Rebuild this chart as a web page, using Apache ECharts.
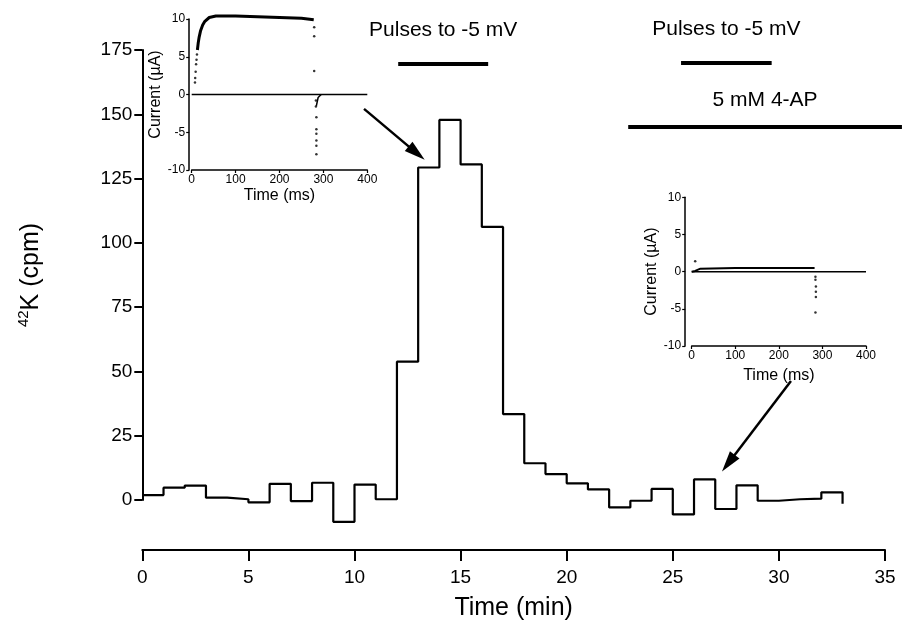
<!DOCTYPE html>
<html><head><meta charset="utf-8">
<script src="https://cdn.jsdelivr.net/npm/echarts@6/dist/echarts.min.js"></script>
<style>html,body{margin:0;padding:0;background:#fff}#c{width:903px;height:631px}</style>
</head><body><div id="c"></div>
<script>
// ---- main chart data (42K efflux, cpm per 1-min bin) ----
const minuteStarts = [0,1,2,3,4,5,6,7,8,9,10,11,12,13,14,15,16,17,18,19,20,21,22,23,24,25,26,27,28,29,30,31,32,33];
const cpmValues = [1.9,4.8,5.6,0.9,0.3,-0.9,6.3,-0.4,6.7,-8.5,6.0,0.3,53.8,129.3,147.8,130.5,106.2,33.4,14.3,10.1,6.5,4.1,-2.9,-0.3,4.3,-5.6,8.0,-3.5,5.7,-0.3,0.3,0.5,3.0,-1.5];
const xTicks = [0,5,10,15,20,25,30,35];
const yTicks = [0,25,50,75,100,125,150,175];

// ---- annotations (data coords, minutes / cpm) ----
const pulseLabel = 'Pulses to -5 mV';
const pulseBars = [[12.06,16.3,169.5],[25.39,29.66,170.2]];
const apLabel = '5 mM 4-AP';
const apBar = [22.9,35.8,145.1];
const arrows = [[[10.45,152.1],[12.93,134.9]],[[30.57,46.3],[27.62,14.3]]];

// ---- inset 1 (control): current (uA) vs time (ms) ----
const inset1Zero = [[0,0],[400,0]];
const inset1Trace = [[13,5.9],[15,6.9],[17,7.6],[20,8.4],[25,9.2],[30,9.7],[40,10.2],[55,10.4],[100,10.4],[150,10.3],[200,10.2],[250,10.1],[278,9.9]];
const inset1Dots = [[7.5,1.6],[8,2.2],[9,3.0],[10,4.0],[11,4.6],[12,5.3],[279,8.9],[279,7.7],[279,3.1],[283,-0.8],[283,-1.6],[284,-3.0],[284,-4.6],[284,-5.2],[284,-6.1],[284,-6.8],[284,-7.9]];
const inset1Tail = [[284,-1.5],[288,-0.4],[295,0]];
// ---- inset 2 (4-AP) ----
const inset2Zero = [[0,0],[400,0]];
const inset2Trace = [[0,0],[8,0.1],[12,0.3],[20,0.4],[100,0.5],[200,0.5],[282,0.5]];
const inset2Dots = [[8,1.4],[284,-0.7],[284,-1.1],[285,-2.0],[285,-2.7],[285,-3.4],[284,-5.5]];
const insetXTicks = [0,100,200,300,400];
const insetYTicks = [-10,-5,0,5,10];

const FONT = "'Liberation Sans', Arial, Helvetica, sans-serif";
const chart = echarts.init(document.getElementById('c'), null, {renderer:'canvas'});

function insetAxes(gi, yOffset, yGap, xGap) {
  return {
    x: {
      gridIndex: gi, type:'value', min: insetXTicks[0], max: insetXTicks[insetXTicks.length-1], interval: 100,
      axisLine:{onZero:false, lineStyle:{color:'#000', width:1.5}},
      axisTick:{show:true, length:3, lineStyle:{color:'#000', width:1.2}},
      axisLabel:{color:'#000', fontSize:12, fontFamily:FONT, margin:4},
      splitLine:{show:false},
      name:'Time (ms)', nameLocation:'middle', nameGap:xGap,
      nameTextStyle:{color:'#000', fontSize:16, fontFamily:FONT}
    },
    y: {
      gridIndex: gi, type:'value', min: insetYTicks[0], max: insetYTicks[insetYTicks.length-1], interval: 5, offset: yOffset,
      axisLine:{show:true, onZero:false, lineStyle:{color:'#000', width:1.5}},
      axisTick:{show:true, length:3, lineStyle:{color:'#000', width:1.2}},
      axisLabel:{color:'#000', fontSize:12, fontFamily:FONT, margin:4},
      splitLine:{show:false},
      name:'Current (\u00B5A)', nameLocation:'middle', nameGap:yGap,
      nameTextStyle:{color:'#000', fontSize:16, fontFamily:FONT}
    }
  };
}
const in1 = insetAxes(1, 2.5, 22, 18);
const in2 = insetAxes(2, 6.5, 22, 22);

const solidBar = {width:4, color:'#000', type:'solid'};
const markData = [];
pulseBars.forEach(b => {
  markData.push([
    {coord:[b[0], b[2]], symbol:'none', lineStyle:solidBar,
     label:{show:true, formatter:pulseLabel, position:'middle', distance:23, color:'#000', fontSize:21, lineHeight:21, fontFamily:FONT}},
    {coord:[b[1], b[2]], symbol:'none'}
  ]);
});
markData.push([
  {coord:[apBar[0], apBar[2]], symbol:'none', lineStyle:solidBar,
   label:{show:true, formatter:apLabel, position:'middle', distance:16, color:'#000', fontSize:21, lineHeight:21, fontFamily:FONT}},
  {coord:[apBar[1], apBar[2]], symbol:'none'}
]);
arrows.forEach(a => {
  markData.push([
    {coord:a[0], symbol:'none', lineStyle:{width:2.5, color:'#000', type:'solid'}, label:{show:false}},
    {coord:a[1], symbol:'triangle', symbolSize:[12,21]}
  ]);
});

const option = {
  backgroundColor:'#fff',
  animation:false,
  grid:[
    {left:142.3, right:18, top:50, bottom:131, outerBoundsMode:'none'},
    {left:191.7, width:175.6, top:19, height:151, outerBoundsMode:'none'},
    {left:691.7, width:174.3, top:197.3, height:148.7, outerBoundsMode:'none'},
    {left:142.3, right:0, top:50, bottom:131, outerBoundsMode:'none'}
  ],
  xAxis:[
    {gridIndex:0, type:'value', min:xTicks[0], max:xTicks[xTicks.length-1], interval:5, offset:50,
     axisLine:{onZero:false, lineStyle:{color:'#000', width:2}},
     axisTick:{show:true, length:11, lineStyle:{color:'#000', width:2}},
     axisLabel:{color:'#000', fontSize:19, fontFamily:FONT, margin:18},
     splitLine:{show:false},
     name:'Time (min)', nameLocation:'middle', nameGap:46,
     nameTextStyle:{color:'#000', fontSize:25, fontFamily:FONT}},
    in1.x, in2.x,
    {gridIndex:3, type:'value', min:0, max:35.85, show:false}
  ],
  yAxis:[
    {gridIndex:0, type:'value', min:yTicks[0], max:yTicks[yTicks.length-1], interval:25,
     axisLine:{show:true, onZero:false, lineStyle:{color:'#000', width:2}},
     axisTick:{show:true, length:8, lineStyle:{color:'#000', width:2}},
     axisLabel:{color:'#000', fontSize:19, fontFamily:FONT, margin:10},
     splitLine:{show:false},
     name:'{sup|42}{b|K (cpm)}', nameLocation:'middle', nameGap:96,
     nameTextStyle:{color:'#000', fontFamily:FONT,
       rich:{sup:{fontSize:15, fontFamily:FONT, color:'#000', verticalAlign:'top', lineHeight:14},
             b:{fontSize:25, fontFamily:FONT, color:'#000', lineHeight:30}}}},
    in1.y, in2.y,
    {gridIndex:3, type:'value', min:0, max:175, show:false}
  ],
  series:[
    {type:'line', xAxisIndex:0, yAxisIndex:0, step:'end', clip:false, showSymbol:false, symbol:'none',
     lineStyle:{color:'#000', width:2.2}, data: minuteStarts.map((m,i)=>[m, cpmValues[i]])},
    {type:'line', xAxisIndex:3, yAxisIndex:3, data:[], symbol:'none',
     markLine:{silent:true, animation:false, symbol:['none','none'], lineStyle:{type:'solid', color:'#000'}, data:markData}},
    // inset 1
    {type:'line', xAxisIndex:1, yAxisIndex:1, symbol:'none', clip:false, lineStyle:{color:'#000', width:1.5}, data:inset1Zero},
    {type:'line', xAxisIndex:1, yAxisIndex:1, symbol:'none', clip:false, lineStyle:{color:'#000', width:3}, data:inset1Trace},
    {type:'line', xAxisIndex:1, yAxisIndex:1, symbol:'none', clip:false, lineStyle:{color:'#000', width:1.5}, data:inset1Tail},
    {type:'scatter', xAxisIndex:1, yAxisIndex:1, symbolSize:2.5, clip:false, itemStyle:{color:'#000'}, data:inset1Dots},
    // inset 2
    {type:'line', xAxisIndex:2, yAxisIndex:2, symbol:'none', clip:false, lineStyle:{color:'#000', width:1.5}, data:inset2Zero},
    {type:'line', xAxisIndex:2, yAxisIndex:2, symbol:'none', clip:false, lineStyle:{color:'#000', width:2}, data:inset2Trace},
    {type:'scatter', xAxisIndex:2, yAxisIndex:2, symbolSize:2.5, clip:false, itemStyle:{color:'#000'}, data:inset2Dots}
  ]
};
chart.setOption(option);
</script>
</body></html>
